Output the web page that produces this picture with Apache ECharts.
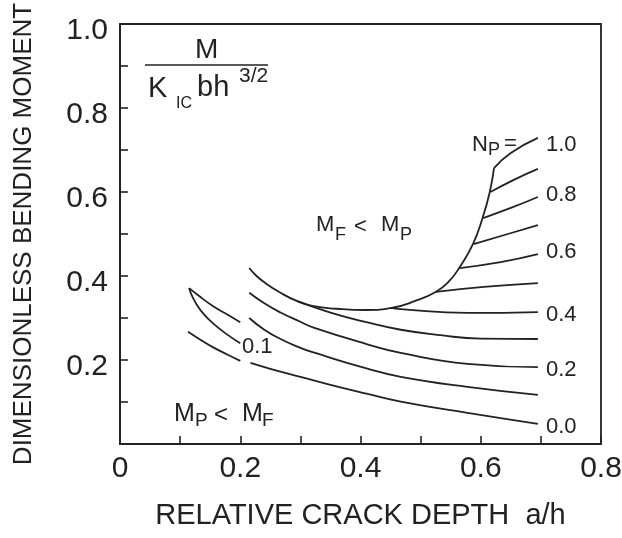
<!DOCTYPE html>
<html>
<head>
<meta charset="utf-8">
<script src="https://cdn.jsdelivr.net/npm/echarts@6/dist/echarts.min.js"></script>
<style>
html,body{margin:0;padding:0;background:#fff;}
#c{width:622px;height:538px;}
</style>
</head>
<body>
<div id="c"></div>
<script>
// ---- data (x = a/h, y = M/(K_IC b h^3/2)) ----
var envelope = [[0.215,0.419],[0.225,0.403],[0.24,0.385],[0.267,0.360],[0.295,0.340],[0.322,0.328],[0.36,0.322],[0.41,0.319],[0.455,0.325],[0.49,0.340],[0.525,0.362],[0.547,0.387],[0.564,0.419],[0.587,0.476],[0.603,0.538],[0.615,0.600],[0.622,0.657]];
var np10 = [[0.622,0.657],[0.65,0.693],[0.695,0.729]];
var np09 = [[0.616,0.600],[0.655,0.629],[0.695,0.655]];
var np08 = [[0.604,0.538],[0.65,0.562],[0.695,0.588]];
var np07 = [[0.588,0.476],[0.645,0.500],[0.695,0.521]];
var np06 = [[0.565,0.419],[0.633,0.433],[0.695,0.452]];
var np05 = [[0.525,0.362],[0.605,0.374],[0.695,0.383]];
var np04 = [[0.45,0.324],[0.467,0.321],[0.578,0.312],[0.695,0.314]];
var np03 = [[0.295,0.340],[0.35,0.313],[0.41,0.290],[0.467,0.272],[0.533,0.259],[0.6,0.251],[0.695,0.250]];
var np02 = [[0.215,0.360],[0.24,0.335],[0.267,0.313],[0.3,0.291],[0.322,0.277],[0.41,0.238],[0.467,0.217],[0.578,0.191],[0.695,0.183]];
var np01 = [[0.215,0.300],[0.24,0.272],[0.267,0.250],[0.3,0.229],[0.322,0.218],[0.41,0.180],[0.467,0.160],[0.578,0.136],[0.695,0.117]];
var np00 = [[0.217,0.193],[0.25,0.179],[0.3,0.160],[0.35,0.141],[0.41,0.120],[0.467,0.101],[0.578,0.074],[0.695,0.048]];
var shortUpper = [[0.115,0.371],[0.13,0.354],[0.155,0.328],[0.18,0.307],[0.2,0.290]];
var shortLower = [[0.115,0.371],[0.12,0.352],[0.128,0.331],[0.14,0.308],[0.155,0.287],[0.175,0.264],[0.2,0.240]];
var shortBottom = [[0.113,0.267],[0.135,0.247],[0.155,0.230],[0.18,0.212],[0.2,0.198]];
var xTicks = [0, 0.2, 0.4, 0.6, 0.8];
var yTicks = [0.2, 0.4, 0.6, 0.8, 1.0];
var curveLabels = ['1.0','0.8','0.6','0.4','0.2','0.0'];

var FONT = 'Liberation Sans';
var INK = '#222222';
var chart = echarts.init(document.getElementById('c'));

var curves = [envelope,np10,np09,np08,np07,np06,np05,np04,np03,np02,np01,np00,shortUpper,shortLower,shortBottom];
var series = curves.map(function(d){
  return {type:'line', data:d, symbol:'none', smooth:0.5,
    lineStyle:{color:INK,width:1.8}, silent:true, animation:false};
});

function tx(x,y,s,size){
  return {type:'text', x:x, y:y, style:{text:s, fontFamily:FONT, fontSize:size, fill:INK, align:'left', verticalAlign:'middle'}};
}
var labelYs = [145,195,252,315,370,427];
var graphics = [
  tx(195,50,'M',28),
  {type:'line', shape:{x1:145,y1:65,x2:268,y2:65}, style:{stroke:INK,lineWidth:1.6}},
  tx(148,89,'K',29),
  tx(176,104,'IC',16),
  tx(197,88,'bh',29),
  tx(239,76,'3/2',21),
  tx(316,225,'M',22), tx(335,235,'F',18), tx(354,227,'<',22), tx(381,225,'M',22), tx(400,235,'P',18),
  tx(174,414,'M',25), tx(195,421,'P',19), tx(214,415,'<',24), tx(242,414,'M',25), tx(262,421,'F',19),
  tx(472,145,'N',22), tx(488,150,'P',18), tx(504,144,'=',22),
  tx(242,347,'0.1',22)
];
curveLabels.forEach(function(s,i){ graphics.push(tx(546,labelYs[i],s,22)); });

chart.setOption({
  animation:false,
  backgroundColor:'#fff',
  grid:{left:120,right:21,top:24,bottom:94,outerBoundsMode:'none',containLabel:false,show:true,borderColor:INK,borderWidth:1.8,backgroundColor:'transparent'},
  xAxis:{type:'value',min:0,max:0.8,interval:0.2,
    name:'RELATIVE CRACK DEPTH  a/h',nameLocation:'middle',nameGap:57,
    nameTextStyle:{fontFamily:FONT,fontSize:29,color:INK},
    axisLine:{show:true,lineStyle:{color:INK,width:1.8}},
    axisTick:{show:true,inside:true,length:8,lineStyle:{color:INK,width:1.6}},
    minorTick:{show:true,splitNumber:2,length:8,lineStyle:{color:INK,width:1.6}},
    splitLine:{show:false},
    axisLabel:{fontFamily:FONT,fontSize:30,color:INK,margin:10,
      formatter:function(v){ var i=xTicks.indexOf(Math.round(v*10)/10); return i<0?'':(v===0?'0':v.toFixed(1)); }}
  },
  yAxis:{type:'value',min:0,max:1,interval:0.2,
    name:'DIMENSIONLESS BENDING MOMENT',nameLocation:'middle',nameGap:83,
    nameTextStyle:{fontFamily:FONT,fontSize:26,color:INK},
    axisLine:{show:true,lineStyle:{color:INK,width:1.8}},
    axisTick:{show:true,inside:true,length:8,lineStyle:{color:INK,width:1.6}},
    minorTick:{show:true,splitNumber:2,length:8,lineStyle:{color:INK,width:1.6}},
    splitLine:{show:false},
    axisLabel:{fontFamily:FONT,fontSize:30,color:INK,margin:12,lineHeight:14,
      formatter:function(v){ var i=yTicks.indexOf(Math.round(v*10)/10); return i<0?'':'\n'+v.toFixed(1); }}
  },
  series:series,
  graphic:graphics
});
</script>
</body>
</html>
